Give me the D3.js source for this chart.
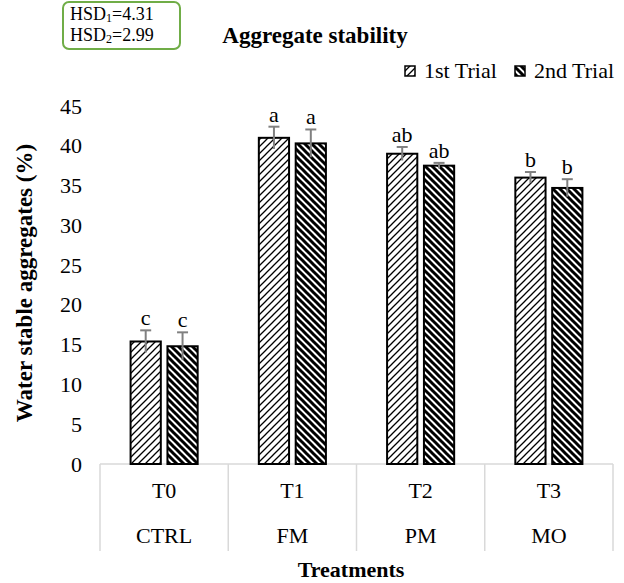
<!DOCTYPE html>
<html><head><meta charset="utf-8">
<script src="https://cdn.jsdelivr.net/npm/d3@7"></script>
<style>body{margin:0;background:#fff}svg{display:block;font-family:"Liberation Serif","Times New Roman",serif}</style>
</head><body><svg id="c" width="624" height="583"></svg>
<script>
const treatments = ["T0","T1","T2","T3"];
const groups = ["CTRL","FM","PM","MO"];
const series = ["1st Trial","2nd Trial"];
const trial1 = [15.4, 41.0, 39.0, 36.0];
const trial2 = [14.8, 40.3, 37.5, 34.7];
const err1 = [1.4, 1.4, 0.85, 0.7];
const err2 = [1.75, 1.75, 0.35, 1.1];
const letters1 = ["c","a","ab","b"];
const letters2 = ["c","a","ab","b"];
const yTicks = [0,5,10,15,20,25,30,35,40,45];

const svg = d3.select("#c");
const defs = svg.append("defs");
const P = 7;
// 1st: wide upward diagonal (thin lines)
const p1 = defs.append("pattern").attr("id","p1").attr("patternUnits","userSpaceOnUse")
  .attr("width",P).attr("height",P);
p1.append("rect").attr("width",P).attr("height",P).attr("fill","#fff");
p1.append("path").attr("d",`M-1,1 L1,-1 M0,${P} L${P},0 M${P-1},${P+1} L${P+1},${P-1}`).attr("stroke","#000").attr("stroke-width",1.3);
// 2nd: wide downward diagonal (thick lines)
const p2 = defs.append("pattern").attr("id","p2").attr("patternUnits","userSpaceOnUse")
  .attr("width",P).attr("height",P);
p2.append("rect").attr("width",P).attr("height",P).attr("fill","#fff");
p2.append("path").attr("d",`M-1,${P-1} L1,${P+1} M0,0 L${P},${P} M${P-1},-1 L${P+1},1`).attr("stroke","#000").attr("stroke-width",3);

const mLeft = 100, mRight = 613, mTop = 106, mBase = 464;
const y = d3.scaleLinear().domain([0,45]).range([mBase, mTop]);
const x0 = d3.scaleBand().domain(treatments).range([mLeft,mRight]);
const x1 = d3.scaleBand().domain(series).range([0, x0.bandwidth()]).paddingInner(0.18).paddingOuter(0.83);

// y axis labels
const yAxis = svg.append("g").attr("transform",`translate(${mLeft},0)`)
  .call(d3.axisLeft(y).tickValues(yTicks).tickSize(0).tickPadding(18));
yAxis.select(".domain").remove();
yAxis.selectAll("text").attr("font-size",22).attr("font-family","Liberation Serif").attr("fill","#000");

// baseline and category separators
svg.append("line").attr("x1",mLeft).attr("x2",mRight).attr("y1",mBase).attr("y2",mBase).attr("stroke","#d9d9d9").attr("stroke-width",1.5);
const seps = treatments.map(t=>x0(t)).concat([mRight]);
svg.selectAll(".sep").data(seps).enter().append("line")
  .attr("x1",d=>d).attr("x2",d=>d).attr("y1",mBase).attr("y2",551)
  .attr("stroke","#d9d9d9").attr("stroke-width",1.5);

// bars
const data = treatments.map((t,i)=>[
  {t, s:series[0], v:trial1[i], e:err1[i], l:letters1[i], pat:"url(#p1)"},
  {t, s:series[1], v:trial2[i], e:err2[i], l:letters2[i], pat:"url(#p2)"}
]).flat();
const cx = d=>x0(d.t)+x1(d.s)+x1.bandwidth()/2;
const g = svg.append("g");
g.selectAll("rect.bar").data(data).enter().append("rect")
  .attr("x",d=>x0(d.t)+x1(d.s)).attr("width",x1.bandwidth())
  .attr("y",d=>y(d.v)).attr("height",d=>mBase-y(d.v))
  .attr("fill",d=>d.pat).attr("stroke","#000").attr("stroke-width",2);
// error bars
const eb = g.selectAll("g.eb").data(data).enter().append("g").attr("stroke","#808080").attr("stroke-width",2);
eb.append("line").attr("x1",cx).attr("x2",cx)
  .attr("y1",d=>y(d.v-d.e)).attr("y2",d=>y(d.v+d.e));
eb.append("line").attr("x1",d=>cx(d)-5.5).attr("x2",d=>cx(d)+5.5)
  .attr("y1",d=>y(d.v+d.e)).attr("y2",d=>y(d.v+d.e));
g.selectAll("text.lt").data(data).enter().append("text")
  .attr("x",cx).attr("y",d=>y(d.v+d.e)-5)
  .attr("text-anchor","middle").attr("font-size",22).text(d=>d.l);

// category labels
svg.selectAll("text.t").data(treatments).enter().append("text")
  .attr("x",d=>x0(d)+x0.bandwidth()/2).attr("y",498).attr("text-anchor","middle").attr("font-size",22).text(d=>d);
svg.selectAll("text.gr").data(groups).enter().append("text")
  .attr("x",(d,i)=>x0(treatments[i])+x0.bandwidth()/2).attr("y",543).attr("text-anchor","middle").attr("font-size",22).text(d=>d);

// axis titles
svg.append("text").attr("x",351).attr("y",577).attr("text-anchor","middle")
  .attr("font-size",22).attr("font-weight","bold").text("Treatments");
svg.append("text").attr("transform","translate(32,283) rotate(-90)").attr("text-anchor","middle")
  .attr("font-size",23).attr("font-weight","bold").text("Water stable aggregates (%)");

// title
svg.append("text").attr("x",315).attr("y",43).attr("text-anchor","middle")
  .attr("font-size",23).attr("font-weight","bold").text("Aggregate stability");

// legend
const leg = svg.append("g");
const legX = [405, 515];
series.forEach((s,i)=>{
  leg.append("rect").attr("x",legX[i]).attr("y",66).attr("width",10).attr("height",10)
    .attr("fill",i===0?"url(#p1)":"url(#p2)").attr("stroke","#000").attr("stroke-width",1.5);
  leg.append("text").attr("x",legX[i]+19).attr("y",78).attr("font-size",22).text(s);
});

// HSD box
svg.append("rect").attr("x",63).attr("y",2).attr("width",117).attr("height",47).attr("rx",6)
  .attr("fill","#fff").attr("stroke","#70ad47").attr("stroke-width",2);
const hsd = [["1","4.31"],["2","2.99"]];
hsd.forEach((h,i)=>{
  const t = svg.append("text").attr("x",70).attr("y",20+i*21).attr("font-size",18);
  t.append("tspan").text("HSD");
  t.append("tspan").attr("font-size",12).attr("dy",2).text(h[0]);
  t.append("tspan").attr("dy",-2).text("="+h[1]);
});
</script></body></html>
